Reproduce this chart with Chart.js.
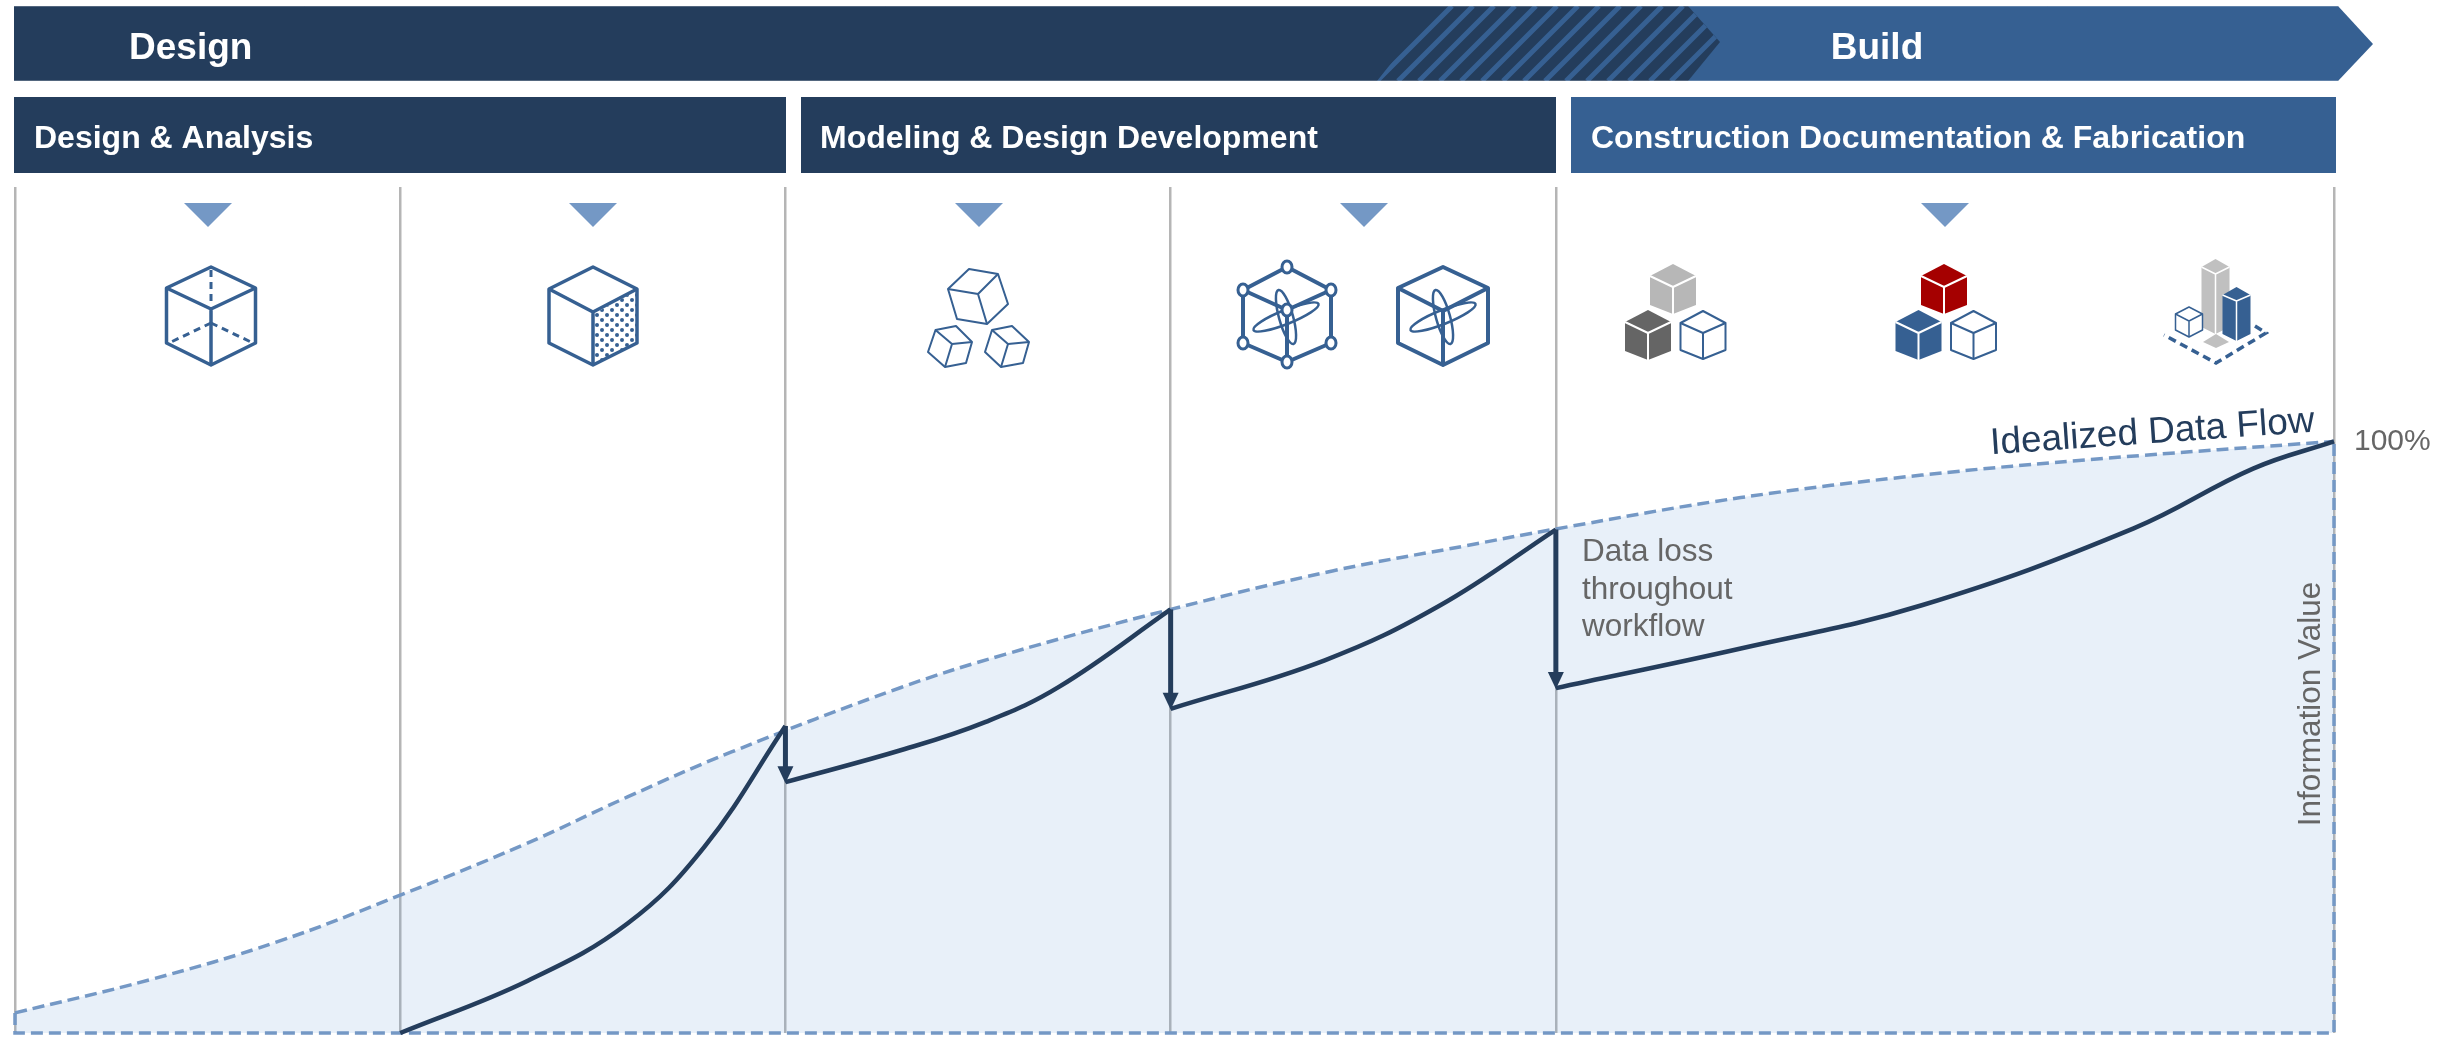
<!DOCTYPE html>
<html>
<head>
<meta charset="utf-8">
<title>Data flow through design and build</title>
<style>
  html, body { margin: 0; padding: 0; background: #fff; }
  canvas { display: block; }
</style>
<script src="https://cdn.jsdelivr.net/npm/chart.js@4/dist/chart.umd.min.js"></script>
</head>
<body>
<canvas id="flowChart" width="2448" height="1037"></canvas>
<script>
// x = position along the workflow (stage boundaries), y = information value in %
const stageTicks = [0, 1, 2, 3, 4, 6.02];
const valueTicks = [100];

const idealX = [0, 0.35, 0.68, 1, 1.32, 1.59, 1.86, 2.3, 2.57, 3, 3.42, 3.77, 4, 4.48, 4.95, 5.42, 6.02];
const idealY = [3.4, 9, 15.4, 23.3, 31.8, 39.9, 47.5, 58.4, 64, 71.6, 78.1, 82.4, 85.2, 90.5, 94.3, 97.1, 100];

const boundaryX = [0, 0, 6.02, 6.02];
const boundaryY = [3.4, 0, 0, 100];

const analysisX = [1, 1.33, 1.59, 1.79, 2];
const analysisY = [0, 8.8, 18.5, 31.5, 51.9];

const modelingX = [2, 2.31, 2.52, 2.71, 3];
const modelingY = [42.4, 48, 52.6, 58.5, 71.6];

const developX = [3, 3.4, 3.7, 4];
const developY = [54.8, 63, 72.3, 85.1];

const buildX = [4, 4.48, 4.95, 5.5, 5.81, 6.02];
const buildY = [58.3, 65, 72.3, 85.3, 95.4, 100];

// vertical data loss arrows
const lossX = [2, 3, 4];
const lossFrom = [51.9, 71.6, 85.1];
const lossTo = [42.4, 54.8, 58.3];

const phaseLabels = ['Design', 'Build'];
const stageLabels = ['Design & Analysis', 'Modeling & Design Development', 'Construction Documentation & Fabrication'];
const noteLines = ['Data loss', 'throughout', 'workflow'];

const NAVY = '#243d5c';
const BLUE = '#366092';
const SOFT = '#7498c5';
const GREY = '#666666';
const FONT = '"Liberation Sans", Arial, sans-serif';

function toPoints(xs, ys) {
  return xs.map((x, i) => ({ x: x, y: ys[i] }));
}

function solidLine(xs, ys) {
  return {
    data: toPoints(xs, ys),
    borderColor: NAVY,
    borderWidth: 4.5,
    pointRadius: 0,
    tension: 0.4,
    clip: false
  };
}

function poly(ctx, pts) {
  ctx.beginPath();
  pts.forEach((p, i) => i ? ctx.lineTo(p[0], p[1]) : ctx.moveTo(p[0], p[1]));
  ctx.closePath();
}

function label(ctx, text, x, y, font, color, align) {
  ctx.font = font;
  ctx.fillStyle = color;
  ctx.textAlign = align || 'left';
  ctx.textBaseline = 'alphabetic';
  ctx.fillText(text, x, y);
}

// hex = 6 outline corners, c = middle corner, spokes go to every other corner from `start`
function cube(ctx, hex, c, start, opts) {
  ctx.save();
  ctx.lineJoin = 'round';
  poly(ctx, hex);
  ctx.fillStyle = opts.fill || '#fff';
  ctx.fill();
  if (!opts.fill) {
    ctx.strokeStyle = opts.stroke || BLUE;
    ctx.lineWidth = opts.width || 2;
    ctx.stroke();
  }
  ctx.strokeStyle = opts.fill ? '#fff' : (opts.stroke || BLUE);
  ctx.lineWidth = opts.width || 2;
  ctx.beginPath();
  for (let i = start; i < start + 6; i += 2) {
    const p = hex[i % 6];
    ctx.moveTo(c[0], c[1]);
    ctx.lineTo(p[0], p[1]);
  }
  ctx.stroke();
  ctx.restore();
}

// upright cube from its main coordinates
function iso(cx, hw, top, upper, mid, lower, bottom) {
  return {
    hex: [[cx, top], [cx + hw, upper], [cx + hw, lower], [cx, bottom], [cx - hw, lower], [cx - hw, upper]],
    c: [cx, mid]
  };
}

function isoCube(ctx, cx, hw, top, upper, mid, lower, bottom, opts) {
  const s = iso(cx, hw, top, upper, mid, lower, bottom);
  cube(ctx, s.hex, s.c, 1, opts);
}

function ellipseLine(ctx, x, y, rx, ry, rot) {
  ctx.beginPath();
  ctx.ellipse(x, y, rx, ry, rot, 0, Math.PI * 2);
  ctx.stroke();
}

function drawBanners(ctx) {
  poly(ctx, [[1600, 6], [2338, 6], [2373, 44], [2338, 81], [1600, 81]]);
  ctx.fillStyle = BLUE;
  ctx.fill();

  poly(ctx, [[14, 6], [1688, 6], [1720, 42], [1688, 81], [14, 81]]);
  ctx.fillStyle = NAVY;
  ctx.fill();

  // hatched overlap between the two phases
  ctx.save();
  poly(ctx, [[1377, 6], [1688, 6], [1720, 42], [1688, 81], [1377, 81], [1408, 42]]);
  ctx.clip();
  ctx.strokeStyle = BLUE;
  ctx.lineWidth = 5;
  ctx.beginPath();
  for (let x = 1377; x < 1760; x += 21) {
    ctx.moveTo(x, 81);
    ctx.lineTo(x + 75, 6);
  }
  ctx.stroke();
  ctx.restore();

  // thin lighter edge on the banner
  ctx.strokeStyle = 'rgba(255,255,255,0.22)';
  ctx.lineWidth = 1;
  ctx.beginPath();
  ctx.moveTo(14, 6.5); ctx.lineTo(2338, 6.5);
  ctx.moveTo(14, 80.5); ctx.lineTo(2338, 80.5);
  ctx.stroke();

  label(ctx, phaseLabels[0], 129, 59, 'bold 37px ' + FONT, '#fff');
  label(ctx, phaseLabels[1], 1877, 59, 'bold 37px ' + FONT, '#fff', 'center');

  ctx.fillStyle = NAVY;
  ctx.fillRect(14, 97, 772, 76);
  ctx.fillRect(801, 97, 755, 76);
  ctx.fillStyle = BLUE;
  ctx.fillRect(1571, 97, 765, 76);
  label(ctx, stageLabels[0], 34, 148, 'bold 32px ' + FONT, '#fff');
  label(ctx, stageLabels[1], 820, 148, 'bold 32px ' + FONT, '#fff');
  label(ctx, stageLabels[2], 1591, 148, 'bold 32px ' + FONT, '#fff');
}

function drawMarkers(ctx) {
  ctx.fillStyle = SOFT;
  [208, 593, 979, 1364, 1945].forEach(cx => {
    poly(ctx, [[cx - 24, 203], [cx + 24, 203], [cx, 227]]);
    ctx.fill();
  });
}

function drawIcons(ctx) {
  ctx.save();

  // wireframe cube with hidden edges
  isoCube(ctx, 211, 44.5, 267, 288, 309, 343, 365, { width: 3.5 });
  ctx.strokeStyle = BLUE;
  ctx.lineWidth = 3;
  ctx.setLineDash([7, 5]);
  ctx.beginPath();
  ctx.moveTo(211, 270); ctx.lineTo(211, 306);
  ctx.moveTo(211, 323); ctx.lineTo(169, 343);
  ctx.moveTo(211, 323); ctx.lineTo(253, 343);
  ctx.stroke();
  ctx.setLineDash([]);

  // cube with dotted face
  isoCube(ctx, 593, 44, 267, 289, 312, 343, 365, { width: 3.5 });
  ctx.save();
  poly(ctx, [[595, 313], [636, 291], [636, 342], [595, 363]]);
  ctx.clip();
  ctx.fillStyle = BLUE;
  for (let col = 0; col < 10; col++) {
    for (let row = 0; row < 9; row++) {
      ctx.beginPath();
      ctx.arc(597 + col * 5, 285 + row * 10 + (col % 2) * 5, 2, 0, Math.PI * 2);
      ctx.fill();
    }
  }
  ctx.restore();

  // three tumbling cubes
  cube(ctx, [[969, 269], [998, 274], [1008, 304], [987, 324], [957, 319], [948, 289]], [978, 294], 1, { width: 2 });
  cube(ctx, [[935.5, 330], [956, 326], [972, 342], [966, 363], [945, 367], [928, 352]], [952, 344], 0, { width: 2 });
  cube(ctx, [[992, 330], [1012, 326], [1029, 342], [1023, 363], [1001, 367], [985, 352]], [1008, 344], 0, { width: 2 });

  // mesh cube with control points
  const mesh = iso(1287, 44, 267, 290, 310, 343, 362);
  cube(ctx, mesh.hex, mesh.c, 1, { width: 4 });
  ctx.strokeStyle = BLUE;
  ctx.lineWidth = 2.5;
  ellipseLine(ctx, 1286, 317, 28, 7, 1.3);
  ellipseLine(ctx, 1286, 317, 35, 7, -0.38);
  ctx.lineWidth = 3;
  mesh.hex.concat([mesh.c]).forEach(p => {
    ctx.beginPath();
    ctx.ellipse(p[0], p[1], 5, 6, 0, 0, Math.PI * 2);
    ctx.fillStyle = '#fff';
    ctx.fill();
    ctx.stroke();
  });

  // solid cube with the same ellipses
  isoCube(ctx, 1443, 45, 267, 288, 311, 343, 365, { width: 4 });
  ctx.lineWidth = 2.5;
  ellipseLine(ctx, 1443, 317, 28, 7, 1.3);
  ellipseLine(ctx, 1443, 317, 35, 7, -0.38);

  // grey stack
  isoCube(ctx, 1673, 23, 264, 276, 287, 305, 314, { fill: '#b7b7b7', width: 2 });
  isoCube(ctx, 1648, 23, 310, 322, 333, 351, 360, { fill: '#656565', width: 2 });
  isoCube(ctx, 1703, 22.5, 311, 323, 333, 350, 359, { width: 2 });

  // red stack
  isoCube(ctx, 1944, 23, 264, 276, 287, 305, 314, { fill: '#a50000', width: 2 });
  isoCube(ctx, 1918.5, 23, 310, 322, 333, 351, 360, { fill: BLUE, width: 2 });
  isoCube(ctx, 1973.5, 22.5, 311, 323, 333, 350, 359, { width: 2 });

  // site with towers
  ctx.strokeStyle = BLUE;
  ctx.lineWidth = 3.5;
  ctx.setLineDash([8, 5]);
  ctx.beginPath();
  ctx.moveTo(2255, 326); ctx.lineTo(2266, 333); ctx.lineTo(2216, 363); ctx.lineTo(2164, 335);
  ctx.stroke();
  ctx.setLineDash([]);
  poly(ctx, [[2216, 334], [2229, 342], [2216, 348], [2203, 342]]);
  ctx.fillStyle = '#c0c0c0';
  ctx.fill();
  isoCube(ctx, 2215.5, 14, 259, 267, 274, 327, 334, { fill: '#c0c0c0', width: 1.5 });
  isoCube(ctx, 2236.5, 14, 287, 295, 301, 334, 341, { fill: BLUE, width: 1.5 });
  isoCube(ctx, 2189, 13.5, 307, 314, 321, 330, 337, { width: 1.5 });

  ctx.restore();
}

function drawLossArrows(ctx, chart) {
  const xs = chart.scales.x;
  const ys = chart.scales.y;
  ctx.save();
  ctx.strokeStyle = NAVY;
  ctx.fillStyle = NAVY;
  ctx.lineWidth = 5;
  lossX.forEach((v, i) => {
    const x = xs.getPixelForValue(v);
    const from = ys.getPixelForValue(lossFrom[i]);
    const to = ys.getPixelForValue(lossTo[i]);
    ctx.beginPath();
    ctx.moveTo(x, from);
    ctx.lineTo(x, to - 12);
    ctx.stroke();
    poly(ctx, [[x - 8, to - 16], [x + 8, to - 16], [x, to + 1]]);
    ctx.fill();
  });
  ctx.restore();
}

function drawNotes(ctx) {
  noteLines.forEach((line, i) => {
    label(ctx, line, 1582, 561 + i * 37.5, '31.5px ' + FONT, GREY);
  });

  ctx.save();
  ctx.translate(2153, 443);
  ctx.rotate(-4 * Math.PI / 180);
  label(ctx, 'Idealized Data Flow', 0, 0, '37px ' + FONT, NAVY, 'center');
  ctx.restore();

  ctx.save();
  ctx.translate(2320, 704);
  ctx.rotate(-Math.PI / 2);
  label(ctx, 'Information Value', 0, 0, '31.5px ' + FONT, GREY, 'center');
  ctx.restore();
}

const diagramPlugin = {
  id: 'diagram',
  beforeDraw(chart) {
    const ctx = chart.ctx;
    ctx.save();
    ctx.fillStyle = '#fff';
    ctx.fillRect(0, 0, chart.width, chart.height);
    drawBanners(ctx);
    drawMarkers(ctx);
    drawIcons(ctx);
    ctx.restore();
  },
  afterDatasetsDraw(chart) {
    drawLossArrows(chart.ctx, chart);
    drawNotes(chart.ctx);
  }
};

new Chart(document.getElementById('flowChart').getContext('2d'), {
  type: 'line',
  data: {
    datasets: [
      solidLine(analysisX, analysisY),
      solidLine(modelingX, modelingY),
      solidLine(developX, developY),
      solidLine(buildX, buildY),
      {
        data: toPoints(boundaryX, boundaryY),
        borderColor: SOFT,
        borderWidth: 3.5,
        borderDash: [12, 6],
        pointRadius: 0,
        clip: false
      },
      {
        data: toPoints(idealX, idealY),
        borderColor: SOFT,
        borderWidth: 3.5,
        borderDash: [12, 6],
        pointRadius: 0,
        tension: 0.4,
        fill: 'origin',
        backgroundColor: 'rgba(102,155,215,0.15)',
        clip: false
      }
    ]
  },
  options: {
    responsive: false,
    animation: false,
    events: [],
    layout: { padding: { left: 15, top: 187, bottom: 4, right: 0 } },
    plugins: { legend: { display: false }, tooltip: { enabled: false } },
    scales: {
      x: {
        type: 'linear',
        min: 0,
        max: 6.02,
        afterBuildTicks: s => { s.ticks = stageTicks.map(v => ({ value: v })); },
        afterFit: s => { s.height = 0; },
        ticks: { display: false },
        border: { display: false },
        grid: { color: '#b5b5b5', lineWidth: 2.5, drawTicks: false }
      },
      y: {
        position: 'right',
        min: 0,
        max: 143,
        afterBuildTicks: s => { s.ticks = valueTicks.map(v => ({ value: v })); },
        afterFit: s => {
          s.width = 114;
          s.paddingTop = 0;
          s.paddingBottom = 0;
        },
        ticks: {
          padding: 20,
          color: GREY,
          font: { size: 30, family: FONT },
          callback: v => v + '%'
        },
        border: { display: false },
        grid: { display: false, drawTicks: false }
      }
    }
  },
  plugins: [diagramPlugin]
});
</script>
</body>
</html>
